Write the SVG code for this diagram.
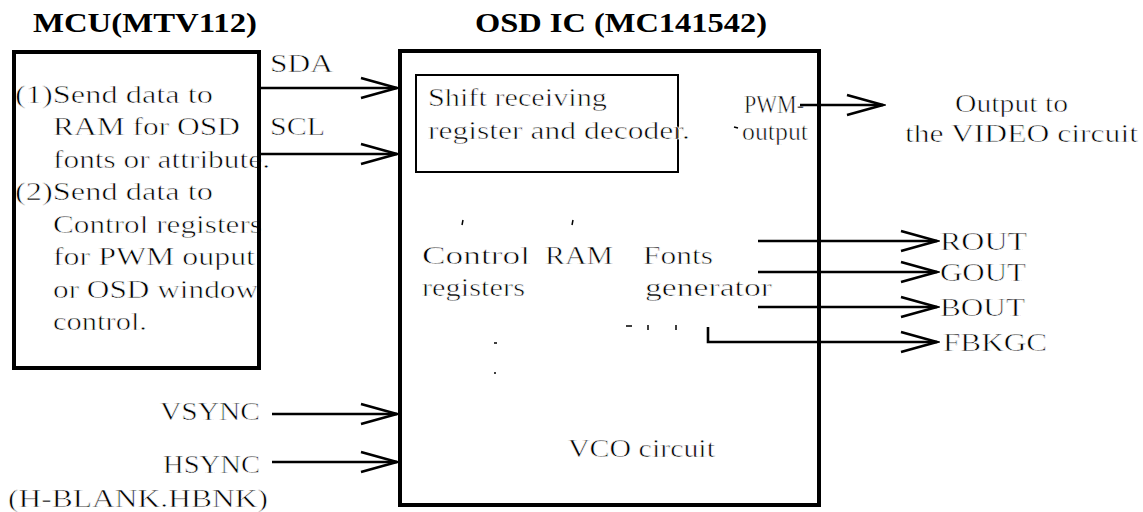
<svg xmlns="http://www.w3.org/2000/svg" width="1143" height="512" viewBox="0 0 1143 512">
<defs>
<marker id="arr" markerUnits="userSpaceOnUse" markerWidth="40" markerHeight="24" viewBox="0 0 40 24" refX="37" refY="12" orient="auto">
<path d="M1,2 L37,12 L1,22" fill="none" stroke="#000" stroke-width="2.6"/>
</marker>
<style>
text{font-family:"Liberation Serif","Times New Roman",serif;fill:#000;font-size:26px;stroke:#fff;stroke-width:0.6px}
.t{font-weight:bold;font-size:28px;stroke:none}
.box{fill:none;stroke:#000;stroke-width:4}
.thin{fill:none;stroke:#000;stroke-width:2}
.c{fill:none;stroke:#000;stroke-width:2.6}
.art{fill:none;stroke:#000;stroke-width:1.5}
</style>
</defs>
<rect width="1143" height="512" fill="#fff"/>

<g id="mcu">
<text class="t" x="33" y="32" textLength="224" lengthAdjust="spacingAndGlyphs">MCU(MTV112)</text>
<text x="15" y="103" textLength="198" lengthAdjust="spacingAndGlyphs">(1)Send data to</text>
<text x="53" y="135" textLength="187" lengthAdjust="spacingAndGlyphs">RAM for OSD</text>
<text x="53" y="168" textLength="217" lengthAdjust="spacingAndGlyphs">fonts or attribute.</text>
<text x="15" y="200" textLength="198" lengthAdjust="spacingAndGlyphs">(2)Send data to</text>
<text x="53" y="233" textLength="209" lengthAdjust="spacingAndGlyphs">Control registers</text>
<text x="53" y="265" textLength="202" lengthAdjust="spacingAndGlyphs">for PWM ouput</text>
<text x="53" y="298" textLength="205" lengthAdjust="spacingAndGlyphs">or OSD window</text>
<text x="53" y="330" textLength="94" lengthAdjust="spacingAndGlyphs">control.</text>
<rect class="box" x="14" y="52" width="245" height="316"/>
</g>

<g id="osd">
<text class="t" x="475" y="32" textLength="292" lengthAdjust="spacingAndGlyphs">OSD IC (MC141542)</text>
<rect class="box" x="400" y="51" width="419" height="454"/>
<text x="744" y="113" textLength="60" lengthAdjust="spacingAndGlyphs">PWM-</text>
<text x="742" y="140" textLength="66" lengthAdjust="spacingAndGlyphs">output</text>
<text x="422" y="264" textLength="108" lengthAdjust="spacingAndGlyphs">Control</text>
<text x="422" y="296" textLength="103" lengthAdjust="spacingAndGlyphs">registers</text>
<text x="545" y="264" textLength="68" lengthAdjust="spacingAndGlyphs">RAM</text>
<text x="643" y="264" textLength="70" lengthAdjust="spacingAndGlyphs">Fonts</text>
<text x="645" y="296" textLength="127" lengthAdjust="spacingAndGlyphs">generator</text>
<text x="568" y="457" textLength="147" lengthAdjust="spacingAndGlyphs">VCO circuit</text>
</g>

<g id="shift">
<rect class="thin" x="416" y="75" width="262" height="97"/>
<text x="428" y="106" textLength="179" lengthAdjust="spacingAndGlyphs">Shift receiving</text>
<text x="428" y="139" textLength="262" lengthAdjust="spacingAndGlyphs">register and decoder.</text>
</g>

<g id="labels">
<text x="270" y="72" textLength="63" lengthAdjust="spacingAndGlyphs">SDA</text>
<text x="270" y="135" textLength="55" lengthAdjust="spacingAndGlyphs">SCL</text>
<text x="160" y="420" textLength="100" lengthAdjust="spacingAndGlyphs">VSYNC</text>
<text x="163" y="473" textLength="97" lengthAdjust="spacingAndGlyphs">HSYNC</text>
<text x="8" y="507" textLength="260" lengthAdjust="spacingAndGlyphs">(H-BLANK.HBNK)</text>
<text x="955" y="112" textLength="113" lengthAdjust="spacingAndGlyphs">Output to</text>
<text x="905" y="142" textLength="233" lengthAdjust="spacingAndGlyphs">the VIDEO circuit</text>
<text x="940" y="250" textLength="87" lengthAdjust="spacingAndGlyphs">ROUT</text>
<text x="940" y="281" textLength="86" lengthAdjust="spacingAndGlyphs">GOUT</text>
<text x="940" y="316" textLength="85" lengthAdjust="spacingAndGlyphs">BOUT</text>
<text x="943" y="351" textLength="104" lengthAdjust="spacingAndGlyphs">FBKGC</text>
</g>

<g id="connectors">
<path class="c" d="M259,88 H397" marker-end="url(#arr)" stroke-width="3"/>
<path class="c" d="M259,154 H397" marker-end="url(#arr)" stroke-width="3"/>
<path class="c" d="M272,414 H397" marker-end="url(#arr)"/>
<path class="c" d="M272,462 H397" marker-end="url(#arr)"/>
<path class="c" d="M800,105 H883" marker-end="url(#arr)"/>
<path class="c" d="M758,241 H937" marker-end="url(#arr)"/>
<path class="c" d="M758,272 H937" marker-end="url(#arr)" stroke-width="3"/>
<path class="c" d="M758,307 H937" marker-end="url(#arr)"/>
<path class="c" d="M708,327 V342 H937" marker-end="url(#arr)"/>
</g>

<g id="marks">
<path class="art" d="M463,220 l-1,5"/>
<path class="art" d="M573,220 l-1,5"/>
<path class="art" d="M734,127 l4,1"/>
<path class="art" d="M626,326 h6 M648,325 v5 M676,325 v5"/>
<path class="art" d="M494,343 h3 M494,373 h2"/>
</g>
</svg>
